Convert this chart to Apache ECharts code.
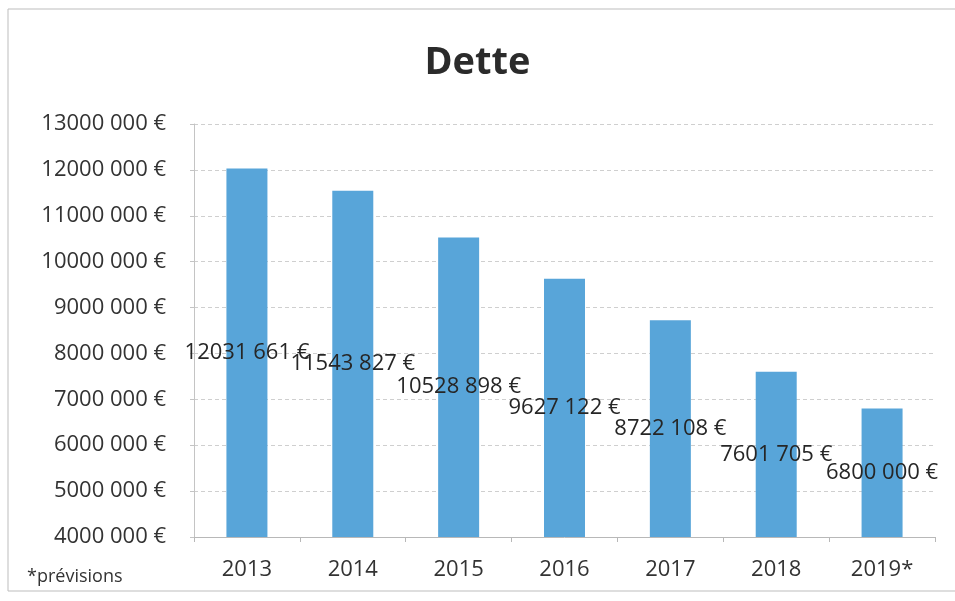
<!DOCTYPE html>
<html>
<head>
<meta charset="utf-8">
<script src="https://cdn.jsdelivr.net/npm/echarts@6/dist/echarts.min.js"></script>
<style>
  html, body { margin: 0; padding: 0; background: #fff; }
  #chart { width: 955px; height: 601px; }
</style>
</head>
<body>
<div id="chart"></div>
<script>
// Dette annuelle (en euros), 2019 = prévision
const years = ['2013', '2014', '2015', '2016', '2017', '2018', '2019*'];
const dette = [12031661, 11543827, 10528898, 9627122, 8722108, 7601705, 6800000];
const axisMin = 4000000;
const axisMax = 13000000;
const axisStep = 1000000;

// "12031 661 €" : only the last group of three digits is set apart
function euro(v) {
  const s = String(Math.round(v));
  if (s.length <= 3) return s + ' €';
  return s.slice(0, -3) + ' ' + s.slice(-3) + ' €';
}

const FONT = '"Open Sans", "Noto Sans", sans-serif';
const chart = echarts.init(document.getElementById('chart'), null, { renderer: 'canvas' });

chart.setOption({
  backgroundColor: '#ffffff',
  animation: false,
  title: {
    text: 'Dette',
    left: 'center',
    top: 39,
    textStyle: { fontFamily: FONT, fontSize: 38, fontWeight: 'bold', color: '#2b2b2b' }
  },
  grid: { left: 194, right: 20, top: 124, bottom: 64, containLabel: false },
  xAxis: {
    type: 'category',
    data: years,
    axisLine: { lineStyle: { color: '#b8b8b8', width: 1 } },
    axisTick: { show: true, lineStyle: { color: '#b8b8b8' }, length: 5 },
    axisLabel: { fontFamily: FONT, fontSize: 22, color: '#333333', margin: 22 }
  },
  yAxis: {
    type: 'value',
    min: axisMin,
    max: axisMax,
    interval: axisStep,
    axisLine: { show: true, lineStyle: { color: '#c4c4c4', width: 1 } },
    axisTick: { show: true, lineStyle: { color: '#c4c4c4' }, length: 4 },
    splitLine: { lineStyle: { color: '#cfcfcf', type: [4, 3], width: 1 } },
    axisLabel: { fontFamily: FONT, fontSize: 22, color: '#333333', margin: 28, formatter: euro }
  },
  series: [{
    type: 'bar',
    data: dette,
    barWidth: 41,
    itemStyle: { color: '#58a5d9' },
    label: {
      show: true,
      position: 'inside',
      fontFamily: FONT,
      fontSize: 22,
      color: '#262626',
      formatter: p => euro(p.value)
    }
  }],
  graphic: [
    {
      type: 'rect',
      shape: { x: 8, y: 9, width: 960, height: 582 },
      style: { fill: 'none', stroke: '#bdbdbd', lineWidth: 1 },
      silent: true
    },
    {
      type: 'text',
      left: 27,
      top: 568,
      style: { text: '*prévisions', font: '18px ' + FONT, fill: '#333333' }
    }
  ]
});
</script>
</body>
</html>
